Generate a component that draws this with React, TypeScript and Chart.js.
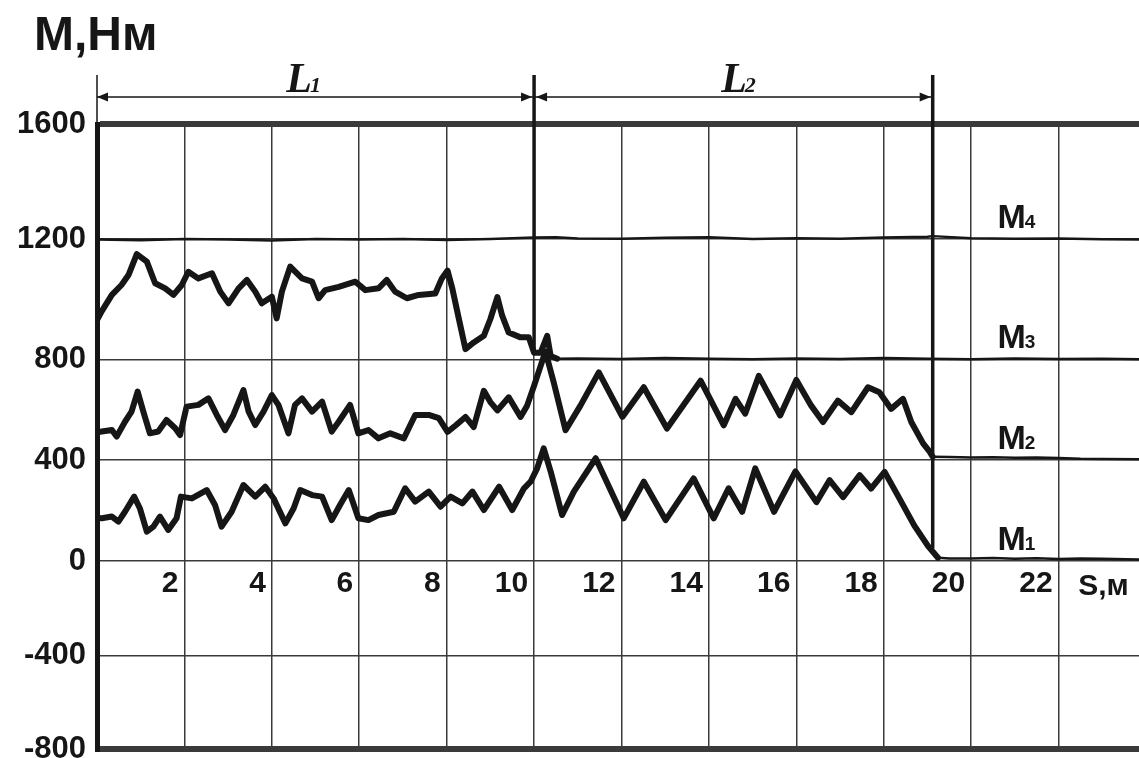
import React, { useEffect, useRef } from 'react';
import { Chart, registerables, LinearScale } from 'chart.js';

Chart.register(...registerables);

// ---------- data ----------
const X_MIN = 0;
const X_MAX = 23.84;
const X_STEP = 2;
const Y_MIN = -800;
const Y_MAX = 1600;
const Y_STEP = 400;

// the scanned grid is not evenly spaced: where each y tick sits (fraction of plot height from bottom)
const Y_TICK_VALUES = [-800, -400, 0, 400, 800, 1200, 1600];
const Y_TICK_FRACTIONS = [0, 0.1493, 0.3008, 0.4624, 0.6235, 0.816, 1];

const M4_S = [0, 1, 2, 3, 4, 5, 6, 7, 8, 9, 10, 10.5, 11, 12, 13, 14, 15, 16, 17, 18, 19, 19.12, 20, 21, 22, 23, 23.84];
const M4_V = [1198, 1196, 1200, 1198, 1195, 1200, 1198, 1200, 1197, 1200, 1205, 1206, 1202, 1201, 1204, 1206, 1200, 1203, 1201, 1205, 1208, 1210, 1203, 1201, 1202, 1199, 1198];

const M3_S = [0, 0.11, 0.34, 0.56, 0.72, 0.91, 1.14, 1.33, 1.56, 1.75, 1.94, 2.09, 2.32, 2.63, 2.82, 3.01, 3.24, 3.43, 3.62, 3.77, 4.0, 4.11, 4.23, 4.42, 4.69, 4.92, 5.07, 5.22, 5.53, 5.91, 6.14, 6.44, 6.63, 6.82, 7.09, 7.36, 7.74, 7.89, 8.02, 8.13, 8.28, 8.43, 8.62, 8.85, 9.0, 9.16, 9.27, 9.42, 9.69, 9.88, 10.0, 10.15, 10.3, 10.38, 10.53, 11, 12, 13, 14, 15, 16, 17, 18, 19, 20, 21, 22, 23, 23.84];
const M3_V = [930, 960, 1014, 1047, 1080, 1150, 1125, 1053, 1036, 1014, 1047, 1091, 1069, 1086, 1025, 986, 1036, 1064, 1025, 986, 1008, 936, 1025, 1108, 1069, 1058, 1003, 1030, 1041, 1058, 1030, 1036, 1064, 1025, 1003, 1014, 1019, 1069, 1095, 1035, 934, 834, 856, 878, 934, 1007, 945, 889, 873, 873, 822, 822, 878, 811, 802, 803, 801, 804, 802, 800, 803, 801, 804, 802, 800, 803, 801, 802, 800];

const M2_S = [0, 0.11, 0.34, 0.45, 0.64, 0.79, 0.93, 1.06, 1.21, 1.4, 1.59, 1.79, 1.9, 2.05, 2.32, 2.55, 2.74, 2.93, 3.12, 3.35, 3.47, 3.62, 3.81, 4.0, 4.15, 4.38, 4.53, 4.69, 4.92, 5.15, 5.37, 5.53, 5.79, 5.98, 6.21, 6.44, 6.71, 7.02, 7.28, 7.59, 7.82, 8.02, 8.21, 8.43, 8.62, 8.85, 9.0, 9.16, 9.42, 9.69, 9.84, 10.0, 10.15, 10.26, 10.45, 10.72, 11.06, 11.48, 12.02, 12.51, 13.04, 13.81, 14.34, 14.61, 14.83, 15.14, 15.63, 16.0, 16.34, 16.61, 16.95, 17.26, 17.64, 17.9, 18.17, 18.44, 18.63, 18.9, 19.05, 19.12, 19.5, 20, 20.5, 21, 21.5, 22, 22.5, 23, 23.84];
const M2_V = [510, 513, 519, 493, 552, 592, 672, 592, 506, 513, 559, 526, 499, 612, 619, 645, 579, 519, 579, 678, 592, 539, 592, 658, 619, 506, 619, 645, 592, 632, 513, 552, 619, 506, 519, 486, 506, 486, 579, 579, 566, 512, 538, 571, 531, 675, 630, 597, 649, 571, 616, 695, 774, 826, 708, 518, 616, 748, 571, 689, 525, 715, 538, 643, 584, 734, 577, 718, 616, 551, 636, 590, 689, 669, 603, 643, 551, 466, 433, 413, 412, 410, 411, 409, 410, 408, 405, 404, 403];

const M1_S = [0, 0.11, 0.34, 0.49, 0.64, 0.85, 0.98, 1.14, 1.29, 1.44, 1.63, 1.82, 1.92, 2.17, 2.51, 2.7, 2.85, 3.08, 3.35, 3.62, 3.85, 4.04, 4.31, 4.5, 4.65, 4.92, 5.15, 5.37, 5.56, 5.76, 5.98, 6.21, 6.44, 6.79, 7.05, 7.28, 7.59, 7.86, 8.09, 8.36, 8.59, 8.85, 9.2, 9.5, 9.77, 9.92, 10.07, 10.22, 10.38, 10.64, 10.91, 11.41, 12.05, 12.51, 13.01, 13.65, 14.11, 14.45, 14.76, 15.06, 15.49, 15.98, 16.46, 16.76, 17.07, 17.45, 17.71, 18.02, 18.32, 18.7, 19.01, 19.24, 19.5, 20, 20.5, 21, 21.5, 22, 22.5, 23, 23.84];
const M1_V = [170, 169, 176, 156, 195, 255, 209, 116, 136, 176, 123, 169, 255, 248, 281, 222, 136, 195, 301, 255, 294, 248, 149, 209, 281, 261, 255, 162, 222, 281, 169, 162, 182, 195, 288, 235, 275, 215, 255, 228, 275, 202, 294, 202, 288, 314, 367, 446, 354, 182, 275, 407, 169, 314, 162, 327, 169, 288, 195, 367, 195, 355, 233, 320, 253, 340, 287, 353, 260, 140, 60, 13, 10, 10, 12, 9, 11, 8, 10, 9, 6];

// where each curve becomes the thin steady trace
const FLAT_FROM = [19.24, 19.12, 10.53, 0];

// annotations
const TITLE = 'М,Нм';
const X_UNIT = 'S,м';
const DIVIDER_S = [10, 19.12];
const DIVIDER_BOTTOM_V = [820, 50];
const SPAN_FROM = [0, 10];
const SPAN_TO = [10, 19.12];
const SPAN_LABEL_S = [4.75, 14.7];
const SPAN_SUB = ['1', '2'];
const CURVE_LABEL_S = 20.6;
const CURVE_LABEL_V = [0, 400, 800, 1200];
const CURVE_SUB = ['1', '2', '3', '4'];

// ---------- custom scale following the scanned grid ----------
class WarpedLinearScale extends LinearScale {
  static id = 'warpedLinear';
  getPixelForValue(value: number) {
    if (value === null || value === undefined || Number.isNaN(value)) return NaN;
    const v = Y_TICK_VALUES;
    const f = Y_TICK_FRACTIONS;
    let i = 0;
    while (i < v.length - 2 && value > v[i + 1]) i++;
    const t = (value - v[i]) / (v[i + 1] - v[i]);
    return this.getPixelForDecimal(f[i] + t * (f[i + 1] - f[i]));
  }
  getValueForPixel(pixel: number) {
    const dec = this.getDecimalForPixel(pixel);
    const v = Y_TICK_VALUES;
    const f = Y_TICK_FRACTIONS;
    let i = 0;
    while (i < f.length - 2 && dec > f[i + 1]) i++;
    const t = (dec - f[i]) / (f[i + 1] - f[i]);
    return v[i] + t * (v[i + 1] - v[i]);
  }
}
Chart.register(WarpedLinearScale as any);

const INK = '#161616';
const GRID = '#3a3a3a';
const SANS = '"Liberation Sans", Arial, sans-serif';
const SERIF = '"Liberation Serif", "Times New Roman", serif';

function toPoints(s: number[], v: number[]) {
  return s.map((x, i) => ({ x, y: v[i] }));
}

const annotationPlugin = {
  id: 'annotations',
  afterDatasetsDraw(chart: any) {
    const { ctx, scales, chartArea } = chart;
    const x = scales.x;
    const y = scales.y;
    ctx.save();
    ctx.fillStyle = INK;
    ctx.strokeStyle = INK;

    // title
    ctx.font = `bold 48px ${SANS}`;
    ctx.textAlign = 'left';
    ctx.textBaseline = 'alphabetic';
    ctx.fillText(TITLE, 34, 50);

    // dimension line for L1 / L2
    const arrowY = 97;
    const topY = 75;
    ctx.lineWidth = 1.5;
    ctx.beginPath();
    ctx.moveTo(chartArea.left, topY);
    ctx.lineTo(chartArea.left, chartArea.top);
    ctx.stroke();

    const arrowHead = (tip: number, dir: number) => {
      ctx.beginPath();
      ctx.moveTo(tip, arrowY);
      ctx.lineTo(tip - dir * 11, arrowY - 4.5);
      ctx.lineTo(tip - dir * 11, arrowY + 4.5);
      ctx.closePath();
      ctx.fill();
    };
    for (let i = 0; i < SPAN_FROM.length; i++) {
      const a = x.getPixelForValue(SPAN_FROM[i]);
      const b = x.getPixelForValue(SPAN_TO[i]);
      ctx.lineWidth = 1.5;
      ctx.beginPath();
      ctx.moveTo(a, arrowY);
      ctx.lineTo(b, arrowY);
      ctx.stroke();
      arrowHead(a + (i === 0 ? 0 : 2), -1);
      arrowHead(b - 2, 1);

      // label L with subscript
      const cx = x.getPixelForValue(SPAN_LABEL_S[i]);
      ctx.font = `italic bold 42px ${SERIF}`;
      const wL = ctx.measureText('L').width;
      ctx.font = `italic bold 22px ${SERIF}`;
      const wS = ctx.measureText(SPAN_SUB[i]).width;
      const left = cx - (wL + wS) / 2;
      ctx.font = `italic bold 42px ${SERIF}`;
      ctx.textAlign = 'left';
      ctx.fillText('L', left, 92);
      ctx.font = `italic bold 22px ${SERIF}`;
      ctx.fillText(SPAN_SUB[i], left + wL - 2, 92);
    }

    // thick dividers
    ctx.lineWidth = 3.5;
    for (let i = 0; i < DIVIDER_S.length; i++) {
      const px = x.getPixelForValue(DIVIDER_S[i]);
      ctx.beginPath();
      ctx.moveTo(px, topY);
      ctx.lineTo(px, y.getPixelForValue(DIVIDER_BOTTOM_V[i]));
      ctx.stroke();
    }

    // curve labels M1..M4
    const lx = x.getPixelForValue(CURVE_LABEL_S);
    for (let i = 0; i < CURVE_LABEL_V.length; i++) {
      const base = y.getPixelForValue(CURVE_LABEL_V[i]) - 11;
      ctx.font = `bold 34px ${SANS}`;
      ctx.textAlign = 'left';
      ctx.fillText('M', lx, base);
      const wM = ctx.measureText('M').width;
      ctx.font = `bold 19px ${SANS}`;
      ctx.fillText(CURVE_SUB[i], lx + wM - 1, base);
    }

    // x unit
    ctx.font = `bold 30px ${SANS}`;
    ctx.textAlign = 'left';
    ctx.fillText(X_UNIT, x.getPixelForValue(22.45), y.getPixelForValue(0) + 34);

    ctx.restore();
  },
};

export default function App() {
  const canvasRef = useRef<HTMLCanvasElement | null>(null);

  useEffect(() => {
    const canvas = canvasRef.current;
    if (!canvas) return;
    const series = [
      { label: 'M1', s: M1_S, v: M1_V, flat: FLAT_FROM[0] },
      { label: 'M2', s: M2_S, v: M2_V, flat: FLAT_FROM[1] },
      { label: 'M3', s: M3_S, v: M3_V, flat: FLAT_FROM[2] },
      { label: 'M4', s: M4_S, v: M4_V, flat: FLAT_FROM[3] },
    ];
    const chart = new Chart(canvas, {
      type: 'line',
      data: {
        datasets: series.map((d) => ({
          label: d.label,
          data: toPoints(d.s, d.v),
          borderColor: INK,
          backgroundColor: INK,
          borderWidth: 6,
          pointRadius: 0,
          tension: 0,
          fill: false,
          borderJoinStyle: 'round' as const,
          borderCapStyle: 'round' as const,
          segment: {
            borderWidth: (ctx: any) => (ctx.p0.parsed.x >= d.flat ? 2.5 : 6),
          },
        })),
      },
      options: {
        responsive: false,
        animation: false,
        layout: { padding: { top: 124, bottom: 9, left: 0, right: 0 } },
        plugins: { legend: { display: false }, tooltip: { enabled: false }, title: { display: false } },
        scales: {
          x: {
            type: 'linear',
            min: X_MIN,
            max: X_MAX,
            position: { y: 0 } as any,
            ticks: {
              stepSize: X_STEP,
              includeBounds: false,
              autoSkip: false,
              maxRotation: 0,
              align: 'end',
              labelOffset: -6,
              padding: 5,
              color: INK,
              font: { family: SANS, size: 30, weight: 'bold' },
              callback: (v: any) => (Number(v) === 0 ? '' : String(v)),
            },
            grid: { color: GRID, lineWidth: 1.5, drawTicks: false },
            border: { display: false },
            afterFit: (s: any) => {
              s.paddingLeft = 0;
              s.paddingRight = 0;
            },
          } as any,
          y: {
            type: 'warpedLinear',
            min: Y_MIN,
            max: Y_MAX,
            position: 'left',
            ticks: {
              stepSize: Y_STEP,
              autoSkip: false,
              padding: 11,
              color: INK,
              font: { family: SANS, size: 31, weight: 'bold' },
              callback: (v: any) => String(v),
            },
            grid: {
              color: GRID,
              drawTicks: false,
              lineWidth: (c: any) => (c.tick && (c.tick.value === Y_MAX || c.tick.value === Y_MIN) ? 6 : 1.5),
            },
            border: { display: true, width: 5, color: INK },
            afterFit: (s: any) => {
              s.width = 97;
              s.paddingTop = 0;
              s.paddingBottom = 0;
            },
          } as any,
        },
      },
      plugins: [annotationPlugin],
    } as any);
    return () => chart.destroy();
  }, []);

  return (
    <div style={{ position: 'absolute', left: 0, top: 0, width: 1139, height: 758, background: '#fff' }}>
      <canvas ref={canvasRef} width={1139} height={758} />
    </div>
  );
}
